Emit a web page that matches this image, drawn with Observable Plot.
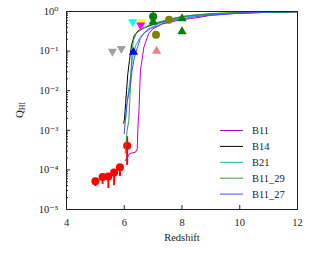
<!DOCTYPE html>
<html><head><meta charset="utf-8">
<script src="https://cdn.jsdelivr.net/npm/d3@7"></script>
<script src="https://cdn.jsdelivr.net/npm/@observablehq/plot@0.6"></script>
<style>
body{margin:0;background:#fff;}
#chart{width:331px;height:253px;}
</style></head><body><div id="chart"></div>
<script>
// ---- tick values / labels ----
const xTicks = [4, 6, 8, 10, 12];
const yTicks = [1e-5, 1e-4, 1e-3, 1e-2, 1e-1, 1];
const yTickLabels = ["10⁻⁵", "10⁻⁴", "10⁻³", "10⁻²", "10⁻¹", "10⁰"];
const xLabel = "Redshift";

// ---- model curves ----
const seriesNames = ["B11", "B14", "B21", "B11_29", "B11_27"];
const seriesColors = ["#bf00bf", "#000000", "#00bfbf", "#3a9a3a", "#4b4bff"];

const b11Z = [6.03, 6.19, 6.39, 6.45, 6.48, 6.51, 6.56, 6.68, 6.85, 7.0, 7.3, 8.0, 8.3, 9.0, 10.0, 12.0];
const b11Q = [1.7e-4, 2.6e-4, 2.8e-4, 3.4e-4, 1.5e-3, 3.2e-3, 3.2e-2, 0.126, 0.28, 0.37, 0.48, 0.63, 0.66, 0.80, 0.91, 0.99];

const b14Z = [5.98, 6.01, 6.05, 6.08, 6.12, 6.18, 6.25, 6.35, 6.49, 6.74, 7.0, 7.6, 8.3, 9.3, 10.7, 12.0];
const b14Q = [1.5e-3, 2.0e-3, 5.0e-3, 1.0e-2, 2.5e-2, 5.8e-2, 0.14, 0.25, 0.33, 0.40, 0.47, 0.63, 0.79, 0.89, 0.94, 0.98];

const b21Z = [6.05, 6.1, 6.15, 6.22, 6.28, 6.4, 6.55, 6.8, 7.2, 8.0, 9.0, 10.0, 12.0];
const b21Q = [2.0e-3, 5.0e-3, 1.0e-2, 2.5e-2, 6.3e-2, 0.14, 0.22, 0.35, 0.50, 0.71, 0.85, 0.93, 0.99];

const b1129Z = [6.03, 6.1, 6.16, 6.24, 6.27, 6.32, 6.42, 6.62, 7.0, 8.0, 9.0, 10.0, 12.0];
const b1129Q = [2.6e-4, 1.0e-3, 1.8e-3, 3.2e-2, 0.105, 0.19, 0.28, 0.37, 0.50, 0.76, 0.89, 0.95, 1.0];

const b1127Z = [6.0, 6.03, 6.09, 6.2, 6.27, 6.35, 6.45, 6.56, 6.67, 6.91, 7.5, 8.3, 9.0, 10.0, 11.0, 12.0];
const b1127Q = [8.3e-4, 1.5e-3, 4.8e-3, 1.2e-2, 3.2e-2, 6.9e-2, 0.12, 0.21, 0.28, 0.37, 0.56, 0.71, 0.81, 0.91, 0.98, 1.0];

const seriesZ = [b11Z, b14Z, b21Z, b1129Z, b1127Z];
const seriesQ = [b11Q, b14Q, b21Q, b1129Q, b1127Q];

// ---- observations: red points with error bars ----
const obsZ  = [5.0, 5.25, 5.45, 5.65, 5.85, 6.1];
const obsQ  = [5.2e-5, 6.6e-5, 6.8e-5, 8.6e-5, 1.17e-4, 4.1e-4];
const obsLo = [3.8e-5, 4.3e-5, 3.4e-5, 4.0e-5, 6.8e-5, 1.3e-4];
const obsHi = [5.8e-5, 7.4e-5, 7.6e-5, 9.6e-5, 1.3e-4, 6.9e-4];

// ---- upper limits (down triangles) ----
const upperZ = [5.59, 5.9, 6.29, 6.6, 6.57];
const upperQ = [0.098, 0.115, 0.55, 0.55, 0.45];
const upperColor = ["#a0a0a0", "#a0a0a0", "#00ffff", "#ffff00", "#ff00ff"];

// ---- lower limits (up triangles) ----
const lowerZ = [6.32, 7.12, 7.0, 8.0, 8.0];
const lowerQ = [0.094, 0.10, 0.55, 0.66, 0.31];
const lowerColor = ["#0000ff", "#f08080", "#008000", "#008000", "#008000"];

// ---- other circles ----
const circZ = [7.0, 7.55, 7.1];
const circQ = [0.75, 0.62, 0.26];
const circLo = [0.55, 0.62, 0.26];
const circHi = [0.92, 0.62, 0.26];
const circColor = ["#008000", "#808000", "#808000"];

// build tables
const obs = obsZ.map((z, i) => ({z, q: obsQ[i], lo: obsLo[i], hi: obsHi[i]}));
const upper = upperZ.map((z, i) => ({z, q: upperQ[i], c: upperColor[i]}));
const lower = lowerZ.map((z, i) => ({z, q: lowerQ[i], c: lowerColor[i]}));
const circ = circZ.map((z, i) => ({z, q: circQ[i], lo: circLo[i], hi: circHi[i], c: circColor[i]}));

const minorTicks = [];
for (let e = -5; e < 0; e++) for (let m = 2; m <= 9; m++) minorTicks.push(m * Math.pow(10, e));

const lineMarks = seriesNames.map((name, k) => {
  const data = seriesZ[k].map((z, i) => ({z, q: seriesQ[k][i]}));
  return Plot.line(data, {x: "z", y: "q", stroke: seriesColors[k], strokeWidth: 1});
});

const plot = Plot.plot({
  width: 331, height: 253,
  marginLeft: 66, marginRight: 34, marginTop: 11, marginBottom: 44,
  style: {fontFamily: "'Liberation Serif', 'DejaVu Serif', serif", fontSize: "10.5px", background: "#fff", color: "#222"},
  x: {domain: [4, 12]},
  y: {type: "log", domain: [1e-5, 1]},
  marks: [
    Plot.ruleX(obs, {x: "z", y1: "lo", y2: "hi", stroke: "#ff0000", strokeWidth: 2}),
    Plot.dot(obs, {x: "z", y: "q", r: 4, fill: "#ff0000"}),
    ...lineMarks,
    Plot.ruleX(circ, {x: "z", y1: "lo", y2: "hi", stroke: d => d.c, strokeWidth: 2}),
    Plot.dot(circ, {x: "z", y: "q", r: 4, fill: d => d.c}),
    Plot.dot(lower, {x: "z", y: "q", r: 3.4, symbol: "triangle", fill: d => d.c}),
    Plot.dot(upper, {x: "z", y: "q", r: 3.4, symbol: "triangle", rotate: 180, fill: d => d.c}),
    Plot.frame({stroke: "#222", strokeWidth: 1}),
    Plot.axisX(xTicks, {tickSize: -4, tickPadding: 13, label: null, tickFormat: d => String(d)}),
    Plot.axisY(minorTicks, {tickSize: -2, tickPadding: 0, label: null, tickFormat: () => ""}),
    Plot.axisY(yTicks, {tickSize: -4, tickPadding: 12, label: null, tickFormat: (d, i) => yTickLabels[yTicks.indexOf(d)]}),
    Plot.text([xLabel], {frameAnchor: "bottom", dy: 31, text: d => d, fill: "#222"})
  ]
});

document.getElementById("chart").appendChild(plot);

// y-axis label with subscript
const svg = d3.select(plot.tagName === "svg" ? plot : plot.querySelector("svg"));
const ylab = svg.append("text")
  .attr("transform", "translate(23,110) rotate(-90)")
  .attr("text-anchor", "middle")
  .attr("font-family", "'Liberation Serif', 'DejaVu Serif', serif")
  .attr("font-size", 11)
  .attr("fill", "#222");
ylab.append("tspan").text("Q");
ylab.append("tspan").attr("font-size", 7.5).attr("dy", 2).text("HI");

// legend
const leg = svg.append("g").attr("font-family", "'Liberation Serif', 'DejaVu Serif', serif").attr("font-size", 10.5).attr("text-anchor", "start");
seriesNames.forEach((name, k) => {
  const y = 130.5 + k * 15.9;
  leg.append("line").attr("x1", 220).attr("x2", 243).attr("y1", y).attr("y2", y)
    .attr("stroke", seriesColors[k]).attr("stroke-width", 1);
  leg.append("text").attr("x", 252).attr("y", y).attr("dy", "0.35em").attr("fill", "#222").attr("text-anchor", "start").text(name);
});
</script>
</body></html>
